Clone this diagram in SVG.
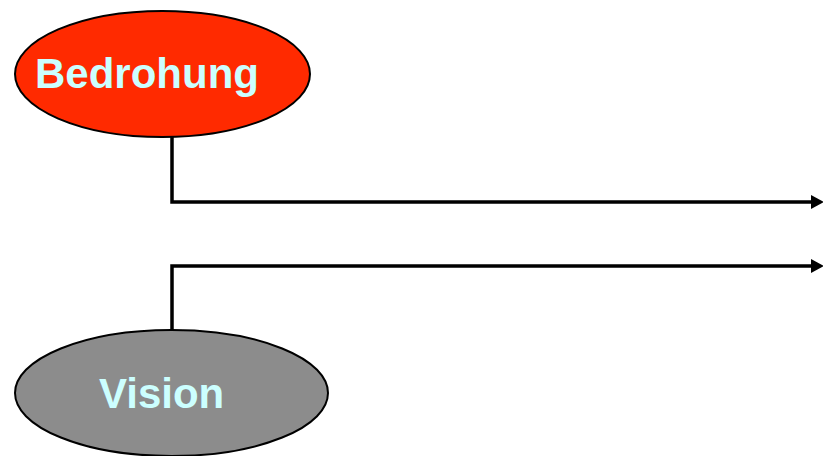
<svg xmlns="http://www.w3.org/2000/svg" width="823" height="456" viewBox="0 0 823 456">
<style>
.lbl{font-family:"Liberation Sans",Arial,sans-serif;font-weight:bold;font-size:42px;fill:#CCFFFF}
.node{stroke:#000;stroke-width:2}
.conn{fill:none;stroke:#000;stroke-width:3.5}
.head{fill:#000}
</style>
<rect width="823" height="456" fill="#fff"/>
<g id="connectors">
<path class="conn" d="M172,137 V202 H813"/>
<polygon class="head" points="811,195 824,202 811,209"/>
<path class="conn" d="M172,330 V266 H813"/>
<polygon class="head" points="811,259 824,266 811,273"/>
</g>
<g id="bedrohung">
<ellipse class="node" cx="162.5" cy="74" rx="147.5" ry="63" fill="#FF2A00"/>
<text class="lbl" x="35" y="88">Bedrohung</text>
</g>
<g id="vision">
<ellipse class="node" cx="171.5" cy="393" rx="156.5" ry="63" fill="#8C8C8C"/>
<text class="lbl" x="99" y="408">Vision</text>
</g>
</svg>
